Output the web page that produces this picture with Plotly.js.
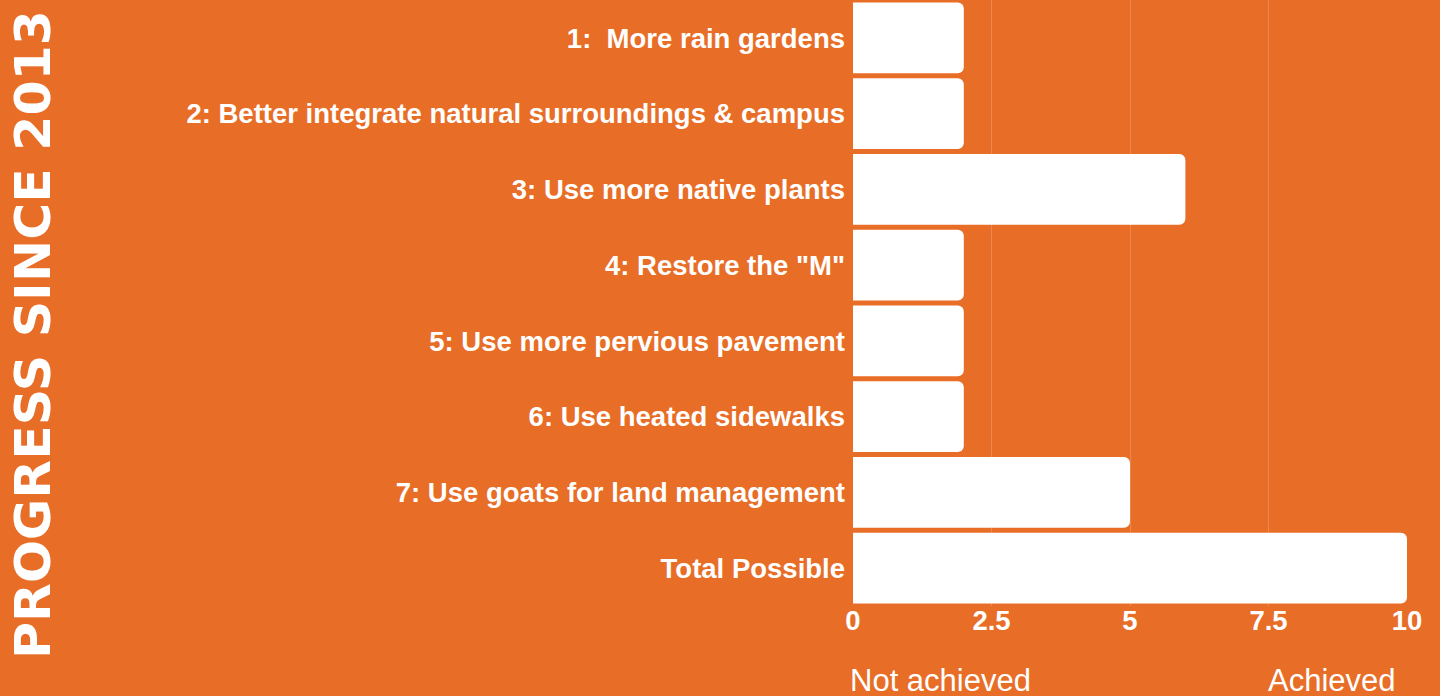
<!DOCTYPE html>
<html>
<head>
<meta charset="utf-8">
<script src="https://cdn.plot.ly/plotly-3.0.1.min.js"></script>
<style>
html,body{margin:0;padding:0;background:#E86D26;}
#chart{width:1440px;height:696px;}
</style>
</head>
<body>
<div id="chart"></div>
<script>
const categories = [
  "1:\u00a0 More rain gardens",
  "2: Better integrate natural surroundings & campus",
  "3: Use more native plants",
  "4: Restore the \"M\"",
  "5: Use more pervious pavement",
  "6: Use heated sidewalks",
  "7: Use goats for land management",
  "Total Possible"
];
const values = [2, 2, 6, 2, 2, 2, 5, 10];
const tickVals = [0, 2.5, 5, 7.5, 10];
const tickText = ["0", "2.5", "5", "7.5", "10"];
const sideTitle = "PROGRESS SINCE 2013";
const lowLabel = "Not achieved";
const highLabel = "Achieved";

const bg = "#E86D26";

const trace = {
  type: "bar",
  orientation: "h",
  y: categories,
  x: values,
  marker: {color: "#FFFFFF", cornerradius: 6, line: {width: 0}},
  hoverinfo: "x+y"
};

const layout = {
  width: 1440,
  height: 696,
  paper_bgcolor: bg,
  plot_bgcolor: bg,
  margin: {l: 853, r: 33, t: 0, b: 90, pad: 0},
  bargap: 0.064,
  showlegend: false,
  font: {family: "Liberation Sans, Arial, sans-serif", color: "#FFFFFF"},
  xaxis: {
    range: [0, 10],
    tickvals: tickVals,
    ticktext: tickText,
    showgrid: true,
    gridcolor: "rgba(255,255,255,0.18)",
    gridwidth: 1,
    zeroline: false,
    showline: false,
    ticks: "",
    ticklabelstandoff: -5,
    fixedrange: true,
    tickfont: {family: "Liberation Sans, Arial, sans-serif", size: 27.5, color: "#FFFFFF", weight: "bold"}
  },
  yaxis: {
    autorange: "reversed",
    type: "category",
    showgrid: false,
    zeroline: false,
    showline: false,
    ticks: "",
    ticklabelstandoff: 7,
    fixedrange: true,
    tickfont: {family: "Liberation Sans, Arial, sans-serif", size: 27.5, color: "#FFFFFF", weight: "bold"}
  },
  annotations: [
    {
      text: sideTitle,
      xref: "paper", yref: "paper",
      x: 0, y: 0.5,
      xshift: -853 + 32,
      yshift: -32,
      textangle: -90,
      showarrow: false,
      xanchor: "center", yanchor: "middle",
      font: {family: "DejaVu Sans, sans-serif", size: 50.5, color: "#FFFFFF", weight: "bold"}
    },
    {
      text: lowLabel,
      xref: "paper", yref: "paper",
      x: 0, y: 0,
      xanchor: "left", yanchor: "middle",
      xshift: -5, yshift: -74,
      showarrow: false,
      font: {family: "Liberation Sans, Arial, sans-serif", size: 31, color: "#FFFFFF"}
    },
    {
      text: highLabel,
      xref: "paper", yref: "paper",
      x: 1, y: 0,
      xanchor: "right", yanchor: "middle",
      xshift: -9, yshift: -74,
      showarrow: false,
      font: {family: "Liberation Sans, Arial, sans-serif", size: 31, color: "#FFFFFF"}
    }
  ]
};

Plotly.newPlot("chart", [trace], layout, {displayModeBar: false, staticPlot: false});
</script>
</body>
</html>
